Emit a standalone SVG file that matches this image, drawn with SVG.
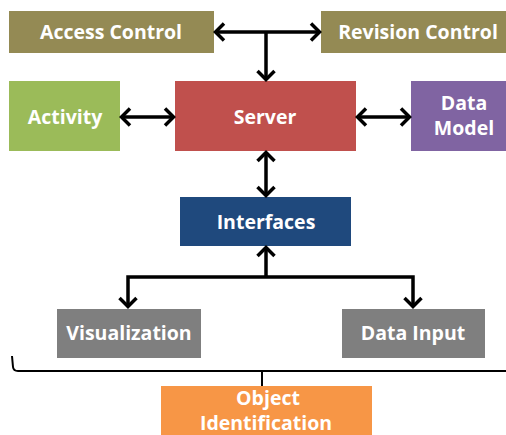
<svg xmlns="http://www.w3.org/2000/svg" width="506" height="435" viewBox="0 0 506 435">
<defs>
<style>
.lbl{font-family:"Open Sans","Noto Sans","DejaVu Sans",sans-serif;font-weight:bold;font-size:19.5px;fill:#ffffff;text-anchor:middle}
.con{stroke:#000;stroke-width:3.5;fill:none}
.brace{stroke:#000;stroke-width:2;fill:none}
</style>
<marker id="ah" markerUnits="userSpaceOnUse" markerWidth="14" markerHeight="20" viewBox="0 0 14 20" refX="12" refY="10" orient="auto-start-reverse">
<path d="M3,1.5 L11.5,10 L3,18.5" stroke="#000" stroke-width="3.5" fill="none"/>
</marker>
</defs>
<g id="access-control"><rect x="9" y="11" width="205" height="42" fill="#948A54"/><text class="lbl" x="111" y="39">Access Control</text></g>
<g id="revision-control"><rect x="321" y="11" width="185" height="42" fill="#948A54"/><text class="lbl" x="418" y="39">Revision Control</text></g>
<g id="activity"><rect x="9" y="81" width="111" height="70" fill="#9BBB59"/><text class="lbl" x="65" y="124">Activity</text></g>
<g id="server"><rect x="175" y="81" width="181" height="70" fill="#C0504D"/><text class="lbl" x="265" y="124">Server</text></g>
<g id="data-model"><rect x="411" y="81" width="95" height="70" fill="#8064A2"/><text class="lbl" x="464" y="110"><tspan x="464">Data</tspan><tspan x="464" dy="25">Model</tspan></text></g>
<g id="interfaces"><rect x="180" y="197" width="171" height="49" fill="#1F497D"/><text class="lbl" x="266" y="229">Interfaces</text></g>
<g id="visualization"><rect x="57" y="309" width="144" height="49" fill="#7F7F7F"/><text class="lbl" x="129" y="340">Visualization</text></g>
<g id="data-input"><rect x="342" y="309" width="143" height="49" fill="#7F7F7F"/><text class="lbl" x="413" y="340">Data Input</text></g>
<g id="object-identification"><rect x="161" y="386" width="211" height="49" fill="#F79646"/><text class="lbl" x="268" y="405"><tspan x="268">Object</tspan><tspan x="266" dy="24.5">Identification</tspan></text></g>
<g id="connectors">
<line class="con" x1="215" y1="32" x2="320" y2="32" marker-start="url(#ah)" marker-end="url(#ah)"/>
<line class="con" x1="266" y1="32" x2="266" y2="80" marker-end="url(#ah)"/>
<line class="con" x1="121" y1="117" x2="174" y2="117" marker-start="url(#ah)" marker-end="url(#ah)"/>
<line class="con" x1="357" y1="117" x2="410" y2="117" marker-start="url(#ah)" marker-end="url(#ah)"/>
<line class="con" x1="266" y1="152" x2="266" y2="196" marker-start="url(#ah)" marker-end="url(#ah)"/>
<line class="con" x1="266" y1="277" x2="266" y2="247" marker-end="url(#ah)"/>
<path class="con" d="M128,307 V277 H413 V307" marker-start="url(#ah)" marker-end="url(#ah)"/>
<path class="brace" d="M12,356 L13,367 Q13.5,371 18,371 L506,371 M262,371 L262,386"/>
</g>
</svg>
